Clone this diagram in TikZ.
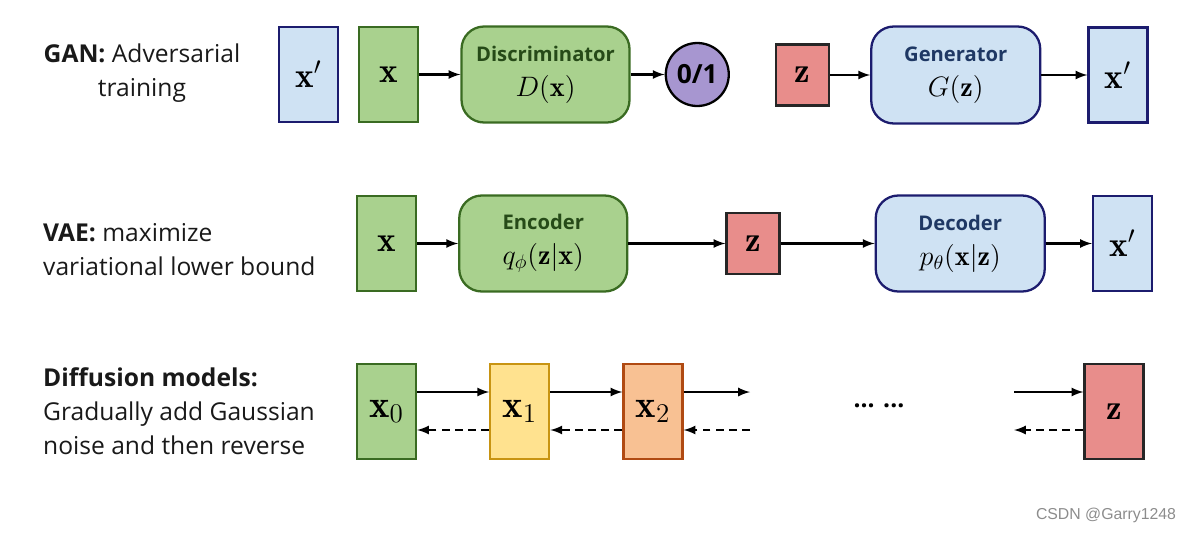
\RequirePackage{fix-cm}
\documentclass[tikz,border=0pt]{standalone}
\usepackage{fontspec}
\setsansfont{Open Sans}
\newfontfamily\markfont{Liberation Sans}
\usepackage{amssymb}
\usepackage{amsmath}
\usetikzlibrary{positioning}

\definecolor{gfill}{HTML}{A9D18E}
\definecolor{gline}{HTML}{3A6B22}
\definecolor{gtext}{HTML}{264A18}
\definecolor{bfill}{HTML}{CFE2F3}
\definecolor{bline}{HTML}{1C1C6E}
\definecolor{btext}{HTML}{1F3864}
\definecolor{rfill}{HTML}{E88D8B}
\definecolor{pfill}{HTML}{A796D0}
\definecolor{yfill}{HTML}{FFE28F}
\definecolor{yline}{HTML}{C89412}
\definecolor{ofill}{HTML}{F8C193}
\definecolor{oline}{HTML}{B04A12}

\newcommand{\nettitle}[2]{{\sffamily\bfseries\fontsize{11.5}{14}\selectfont\color{#1}#2}}

\begin{document}
\begin{tikzpicture}
  [x=0.02cm,y=-0.02cm,
   dataN/.style={rectangle,draw,line width=1.3pt,minimum width=1.18cm,minimum height=1.9cm,
                 font=\fontsize{20}{24}\selectfont},
   stepN/.style={dataN,font=\fontsize{22}{26}\selectfont},
   zN/.style={rectangle,draw=black!85,fill=rfill,line width=1.3pt,minimum width=1.06cm,
              minimum height=1.22cm,font=\fontsize{20}{24}\selectfont},
   netN/.style={rectangle,rounded corners=0.45cm,draw,line width=1.3pt,minimum width=3.36cm,
                minimum height=1.92cm,align=center,font=\fontsize{16}{19}\selectfont},
   labelT/.style={font=\sffamily\fontsize{14}{19.3}\selectfont,text=black!90},
   arr/.style={->,>=latex,line width=1.3pt},
   darr/.style={->,>=latex,line width=1.3pt,dash pattern=on 4.5pt off 3pt}]

  \useasboundingbox (0,0) rectangle (1184,532);

  % GAN
  \node[labelT,align=center] (ganT) at (142,73) {\textbf{GAN:} Adversarial\\training};
  \node[dataN,draw=bline,fill=bfill] (gxp) at (308.5,74.5) {$\mathbf{x}'$};
  \node[dataN,draw=gline,fill=gfill] (gx) [right=0.38cm of gxp] {$\mathbf{x}$};
  \node[netN,draw=gline,fill=gfill] (disc) [right=0.82cm of gx]
    {\nettitle{gtext}{Discriminator}\\[1pt] $D(\mathbf{x})$};
  \node[circle,draw,line width=1.3pt,fill=pfill,minimum size=1.26cm,inner sep=0pt,
        font=\sffamily\bfseries\fontsize{15}{17}\selectfont] (out) [right=0.68cm of disc] {0/1};
  \node[zN] (gz) at (802.5,75) {$\mathbf{z}$};
  \node[netN,draw=bline,fill=bfill,minimum width=3.38cm,minimum height=1.94cm] (gen) [right=0.8cm of gz]
    {\nettitle{btext}{Generator}\\[1pt] $G(\mathbf{z})$};
  \node[dataN,draw=bline,fill=bfill] (gxo) [right=0.92cm of gen] {$\mathbf{x}'$};

  \draw[arr] (gx) -- (disc);
  \draw[arr] (disc) -- (out);
  \draw[arr] (gz) -- (gen);
  \draw[arr] (gen) -- (gxo);

  % VAE
  \node[labelT,align=left,anchor=west] (vaeT) at (37,250) {\textbf{VAE:} maximize\\variational lower bound};
  \node[dataN,draw=gline,fill=gfill] (vx) at (386.5,243.5) {$\mathbf{x}$};
  \node[netN,draw=gline,fill=gfill] (enc) [right=0.82cm of vx]
    {\nettitle{gtext}{Encoder}\\[1pt] $q_\phi(\mathbf{z}|\mathbf{x})$};
  \node[zN] (vz) [right=1.94cm of enc] {$\mathbf{z}$};
  \node[netN,draw=bline,fill=bfill,minimum width=3.38cm] (dec) [right=1.88cm of vz]
    {\nettitle{btext}{Decoder}\\[1pt] $p_\theta(\mathbf{x}|\mathbf{z})$};
  \node[dataN,draw=bline,fill=bfill] (vxo) [right=0.92cm of dec] {$\mathbf{x}'$};

  \draw[arr] (vx) -- (enc);
  \draw[arr] (enc) -- (vz);
  \draw[arr] (vz) -- (dec);
  \draw[arr] (dec) -- (vxo);

  % Diffusion
  \node[labelT,align=left,anchor=west] (difT) at (37,411)
    {\textbf{Diffusion models:}\\Gradually add Gaussian\\noise and then reverse};
  \node[stepN,draw=gline,fill=gfill] (d0) at (386.5,411.5) {$\mathbf{x}_0$};
  \node[stepN,draw=yline,fill=yfill] (d1) [right=1.44cm of d0] {$\mathbf{x}_1$};
  \node[stepN,draw=oline,fill=ofill] (d2) [right=1.44cm of d1] {$\mathbf{x}_2$};
  \node[dataN,draw=black!85,fill=rfill] (dz) at (1114,411.5) {$\mathbf{z}$};
  \coordinate (gapL) at (750,411.5);
  \coordinate (gapR) at (1014,411.5);
  \node[font=\sffamily\bfseries\fontsize{14}{16}\selectfont] (dots) at (879,406) {... ...};

  \draw[arr] ([yshift=0.39cm]d0.east) -- ([yshift=0.39cm]d1.west);
  \draw[arr] ([yshift=0.39cm]d1.east) -- ([yshift=0.39cm]d2.west);
  \draw[arr] ([yshift=0.39cm]d2.east) -- ([yshift=0.39cm]gapL);
  \draw[arr] ([yshift=0.39cm]gapR) -- ([yshift=0.39cm]dz.west);
  \draw[darr] ([yshift=-0.37cm]d1.west) -- ([yshift=-0.37cm]d0.east);
  \draw[darr] ([yshift=-0.37cm]d2.west) -- ([yshift=-0.37cm]d1.east);
  \draw[darr] ([yshift=-0.37cm]gapL) -- ([yshift=-0.37cm]d2.east);
  \draw[darr] ([yshift=-0.37cm]dz.west) -- ([yshift=-0.37cm]gapR);

  \node[font=\markfont\fontsize{9}{10}\selectfont,text=black!45] (mark) at (1106,515) {CSDN @Garry1248};
\end{tikzpicture}
\end{document}
